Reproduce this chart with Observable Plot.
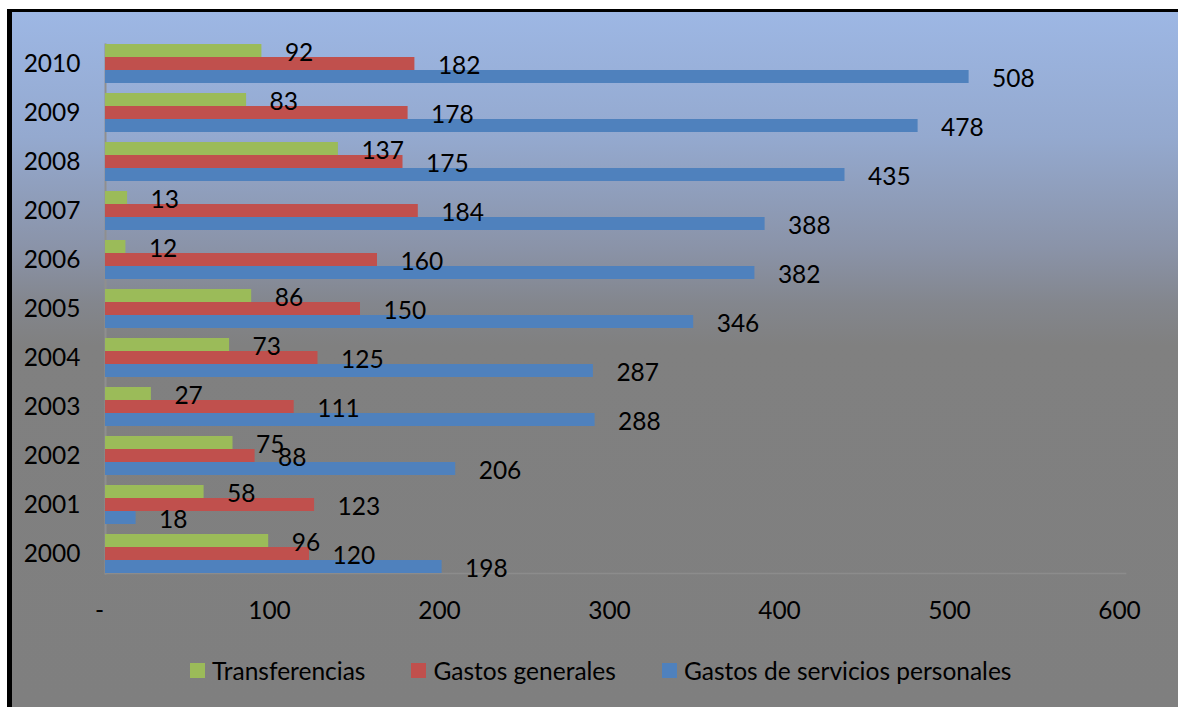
<!DOCTYPE html>
<html>
<head>
<meta charset="utf-8">
<script src="https://cdn.jsdelivr.net/npm/d3@7"></script>
<script src="https://cdn.jsdelivr.net/npm/@observablehq/plot@0.6"></script>
<style>
  html, body { margin: 0; padding: 0; background: #fff; }
  #page { position: relative; width: 1178px; height: 707px; overflow: hidden; font-family: Lato, "Open Sans", sans-serif; }
  #frame { position: absolute; left: 7px; top: 9px; width: 1171px; height: 698px; box-sizing: border-box;
    border-left: 5px solid #000; border-top: 3px solid #000;
    background: linear-gradient(to bottom, #9db7e4 0%, #94a9cf 18%, #8a93a8 34%, #83868d 42%, #808080 48%, #7f7f7f 100%); }
  #chart { position: absolute; left: 0; top: 0; }
  #legend { position: absolute; left: 190px; top: 656px; display: flex; align-items: center; font-size: 24.5px; color: #000; }
  .item { display: flex; align-items: center; margin-right: 46px; }
  .sw { width: 15px; height: 15px; margin-right: 7px; }
</style>
</head>
<body>
<div id="page">
  <div id="frame"></div>
  <div id="chart"></div>
  <div id="legend"></div>
</div>
<script>
const years = ["2000","2001","2002","2003","2004","2005","2006","2007","2008","2009","2010"];
const transferencias = [96, 58, 75, 27, 73, 86, 12, 13, 137, 83, 92];
const gastosGenerales = [120, 123, 88, 111, 125, 150, 160, 184, 175, 178, 182];
const serviciosPersonales = [198, 18, 206, 288, 287, 346, 382, 388, 435, 478, 508];
const seriesNames = ["Transferencias", "Gastos generales", "Gastos de servicios personales"];
const seriesColors = ["#9BBB59", "#C0504D", "#4F81BD"];
const xTicks = [0, 100, 200, 300, 400, 500, 600];

const seriesValues = [transferencias, gastosGenerales, serviciosPersonales];
const data = years.flatMap((year, i) =>
  seriesNames.map((s, k) => ({year, series: s, value: seriesValues[k][i]}))
);

const font = "Lato, 'Open Sans', sans-serif";
const fs = 24.5;
const chart = Plot.plot({
  width: 1178,
  height: 620,
  marginLeft: 105,
  marginRight: 53,
  marginTop: 38,
  marginBottom: 41,
  style: {background: "transparent", fontFamily: font, fontSize: fs + "px", color: "#000", overflow: "visible"},
  x: {domain: [0, 600], axis: null},
  y: {domain: seriesNames, padding: 0, axis: null},
  fy: {domain: years.slice().reverse(), paddingInner: 0.2, paddingOuter: 0.1},
  color: {domain: seriesNames, range: seriesColors},
  marks: [
    Plot.frame({anchor: "left", facet: "super", stroke: "#8f8f8f", strokeWidth: 2}),
    Plot.frame({anchor: "bottom", facet: "super", stroke: "#8c8c8c", strokeWidth: 1.5}),
    Plot.barX(data, {fy: "year", y: "series", x: "value", fill: "series"}),
    Plot.text(data, {fy: "year", y: "series", x: "value", text: d => String(d.value),
      textAnchor: "start", dx: 23, dy: 2, fill: "#000", fontSize: fs, fontFamily: font}),
    Plot.axisFy({anchor: "left", tickSize: 0, tickPadding: 25, fontSize: fs, fontFamily: font, fill: "#000", label: null}),
    Plot.axisX(xTicks, {anchor: "bottom", tickSize: 0, tickPadding: 28, dx: -6, fontSize: fs, fontFamily: font, fill: "#000",
      tickFormat: d => d === 0 ? "-" : String(d), label: null})
  ]
});
document.getElementById("chart").appendChild(chart);

const legend = document.getElementById("legend");
seriesNames.forEach((s, k) => {
  const item = document.createElement("div");
  item.className = "item";
  const sw = document.createElement("div");
  sw.className = "sw";
  sw.style.background = seriesColors[k];
  const t = document.createElement("span");
  t.textContent = s;
  item.appendChild(sw);
  item.appendChild(t);
  legend.appendChild(item);
});
</script>
</body>
</html>
